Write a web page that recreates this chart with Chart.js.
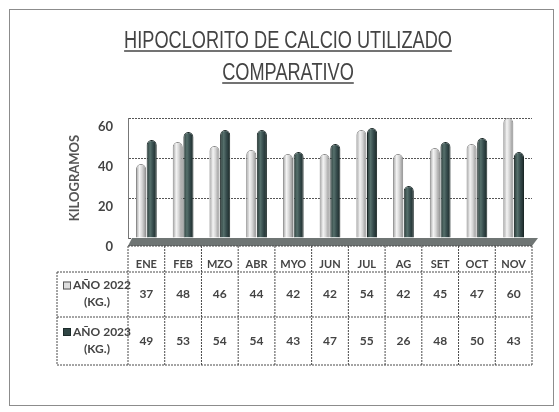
<!DOCTYPE html>
<html lang="es">
<head>
<meta charset="utf-8">
<title>Hipoclorito de calcio utilizado</title>
<style>
  html, body { margin: 0; padding: 0; background: #fff; }
  #wrap { position: relative; width: 559px; height: 412px; }
  #frame { position: absolute; left: 9px; top: 9px; width: 543px; height: 395px; border: 1px solid #8c8c8c; }
  #graph { position: absolute; left: 0; top: 0; }
</style>
</head>
<body>
<div id="wrap">
  <div id="frame"></div>
  <canvas id="graph" width="559" height="412"></canvas>
</div>

<script src="https://cdn.jsdelivr.net/npm/chart.js@4.4.1/dist/chart.umd.min.js"></script>
<script>
// data
var meses = ['ENE', 'FEB', 'MZO', 'ABR', 'MYO', 'JUN', 'JUL', 'AG', 'SET', 'OCT', 'NOV'];
var kg2022 = [37, 48, 46, 44, 42, 42, 54, 42, 45, 47, 60];
var kg2023 = [49, 53, 54, 54, 43, 47, 55, 26, 48, 50, 43];
var series = ['AÑO 2022', 'AÑO 2023'];
var titulo = ['HIPOCLORITO DE CALCIO UTILIZADO', 'COMPARATIVO'];

var CAT_PCT = 0.58, BAR_PCT = 0.95;
var txt = '#444';
var tableFont = 'Lato, "Open Sans", sans-serif';

// cylinder-like shading for each bar
function barFill(light) {
  return function (c) {
    var chart = c.chart, x = chart.scales.x;
    if (!x || c.dataIndex === undefined || !chart.chartArea) return light ? '#d0d0d0' : '#34494a';
    var cw = x.width / meses.length;
    var slot = cw * CAT_PCT / 2;
    var w = slot * BAR_PCT;
    var cx = x.getPixelForValue(c.dataIndex) + (c.datasetIndex - 0.5) * slot;
    var g = chart.ctx.createLinearGradient(cx - w / 2, 0, cx + w / 2, 0);
    if (light) {
      g.addColorStop(0, '#9c9c9c');
      g.addColorStop(0.35, '#f4f4f4');
      g.addColorStop(0.6, '#d6d6d6');
      g.addColorStop(1, '#8e8e8e');
    } else {
      g.addColorStop(0, '#263735');
      g.addColorStop(0.35, '#56706c');
      g.addColorStop(0.65, '#34494a');
      g.addColorStop(1, '#1b2827');
    }
    return g;
  };
}

// title (narrow, underlined), floor and data table
var tablaPlugin = {
  id: 'tabla',
  afterDraw: function (chart) {
    var ctx = chart.ctx, a = chart.chartArea;
    var L = a.left, R = a.right, B = a.bottom;
    var cw = (R - L) / meses.length;
    var front = B + 8, r1 = 272, r2 = 317, r3 = 365, x0 = 57;
    ctx.save();

    // title: Arial-like font squeezed to look like Arial Narrow
    var sx = 0.79, cxT = 288;
    ctx.font = '23px "Liberation Sans", Arimo, sans-serif';
    ctx.textAlign = 'center';
    ctx.textBaseline = 'alphabetic';
    ctx.fillStyle = txt;
    ctx.strokeStyle = txt;
    ctx.lineWidth = 1.5;
    titulo.forEach(function (t, i) {
      var base = 48 + 32 * i;
      var w = ctx.measureText(t).width * sx;
      ctx.save();
      ctx.translate(cxT, base);
      ctx.scale(sx, 1);
      ctx.fillText(t, 0, 0);
      ctx.restore();
      ctx.beginPath();
      ctx.moveTo(cxT - w / 2, base + 3);
      ctx.lineTo(cxT + w / 2, base + 3);
      ctx.stroke();
    });

    // floor of the 3d plot
    ctx.beginPath();
    ctx.moveTo(L + 4, B);
    ctx.lineTo(R + 6, B);
    ctx.lineTo(R, front);
    ctx.lineTo(L, front);
    ctx.closePath();
    ctx.fillStyle = '#6f7574';
    ctx.fill();

    // grid of the table
    ctx.strokeStyle = '#4a4a4a';
    ctx.lineWidth = 1;
    ctx.setLineDash([2, 1]);
    function line(xa, ya, xb, yb) {
      ctx.beginPath();
      ctx.moveTo(xa, ya);
      ctx.lineTo(xb, yb);
      ctx.stroke();
    }
    line(L, front, R, front);
    line(x0, r1, R, r1);
    line(x0, r2, R, r2);
    line(x0, r3, R, r3);
    line(x0, r1, x0, r3);
    for (var k = 0; k <= meses.length; k++) {
      line(L + k * cw, front, L + k * cw, r3);
    }
    ctx.setLineDash([]);

    // row headers with legend keys, then the values
    var rows = [[r1, r2, kg2022, '#dedede', '#555'], [r2, r3, kg2023, '#2f4544', '#1c2a29']];
    rows.forEach(function (r, i) {
      var mid = (r[0] + r[1]) / 2;
      var ly = mid - 9;
      ctx.fillStyle = r[3];
      ctx.fillRect(63, ly - 4, 8, 8);
      ctx.strokeStyle = r[4];
      ctx.strokeRect(63.5, ly - 3.5, 7, 7);
      ctx.fillStyle = txt;
      ctx.font = 'bold 12px ' + tableFont;
      ctx.textAlign = 'left';
      ctx.textBaseline = 'middle';
      ctx.fillText(series[i], 73, ly);
      ctx.textAlign = 'center';
      ctx.fillText('(KG.)', 97, ly + 17);
      r[2].forEach(function (v, j) {
        ctx.fillText(String(v), L + (j + 0.5) * cw, mid);
      });
    });
    ctx.restore();
  }
};

var ctx = document.getElementById('graph').getContext('2d');
var chart = new Chart(ctx, {
  type: 'bar',
  data: {
    labels: meses,
    datasets: [{
      label: series[0],
      data: kg2022,
      backgroundColor: barFill(true),
      borderColor: '#8a8a8a',
      borderWidth: 1,
      borderSkipped: 'bottom',
      borderRadius: { topLeft: 5, topRight: 5, bottomLeft: 0, bottomRight: 0 },
      categoryPercentage: CAT_PCT,
      barPercentage: BAR_PCT
    }, {
      label: series[1],
      data: kg2023,
      backgroundColor: barFill(false),
      borderColor: '#1b2827',
      borderWidth: 1,
      borderSkipped: 'bottom',
      borderRadius: { topLeft: 5, topRight: 5, bottomLeft: 0, bottomRight: 0 },
      categoryPercentage: CAT_PCT,
      barPercentage: BAR_PCT
    }]
  },
  options: {
    responsive: false,
    animation: false,
    events: [],
    layout: { padding: { left: 62, right: 27, top: 118, bottom: 47 } },
    plugins: {
      legend: { display: false },
      tooltip: { enabled: false }
    },
    scales: {
      x: {
        afterFit: function (s) { s.height = 127; },
        grid: { display: false },
        border: { display: false },
        ticks: { color: txt, font: { family: tableFont, size: 11, weight: 'bold' }, padding: 12, maxRotation: 0 }
      },
      y: {
        min: 0,
        max: 60,
        afterFit: function (s) { s.width = 66; },
        ticks: { stepSize: 20, color: txt, font: { family: tableFont, size: 13, weight: 'bold' }, padding: 15, labelOffset: 9 },
        grid: { color: '#555', lineWidth: 1, drawTicks: false },
        border: { display: true, color: '#777', dash: [2, 1] },
        title: {
          display: true,
          text: 'KILOGRAMOS',
          color: '#555',
          font: { family: tableFont, size: 13, weight: 'bold' },
          padding: { top: 5, bottom: 0 }
        }
      }
    }
  },
  plugins: [tablaPlugin]
});
</script>
</body>
</html>
